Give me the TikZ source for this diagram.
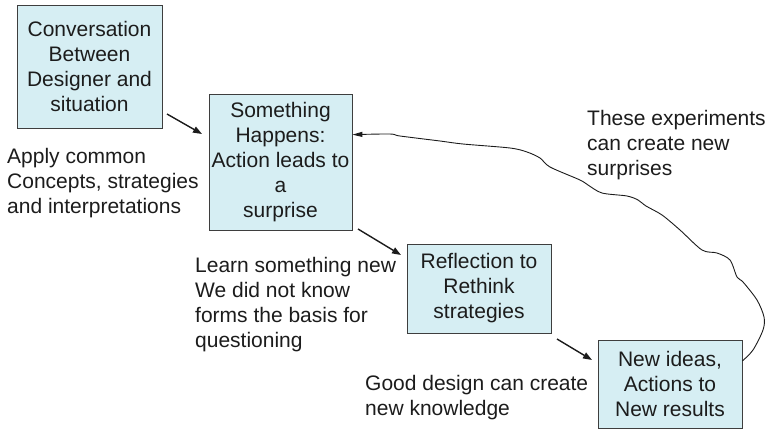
\documentclass[tikz,border=0pt]{standalone}
\usepackage{fontspec}
\setmainfont{Liberation Sans}
\usetikzlibrary{arrows.meta,calc}
\definecolor{boxfill}{RGB}{214,238,243}
\definecolor{ink}{RGB}{28,28,28}
\begin{document}
\begin{tikzpicture}[x=1pt,y=-1pt,
  every node/.style={text=ink},
  txt/.style={font=\fontsize{21}{25}\selectfont},
  box/.style={txt, draw=ink!85, line width=0.8pt, fill=boxfill, align=center, inner sep=0pt},
  note/.style={txt, align=left, anchor=north west, inner sep=0pt},
  flow/.style={draw=ink, line width=1.4pt, -{Triangle[length=9pt,width=6.5pt]}},
  loopline/.style={draw=ink, line width=0.9pt, -{Triangle[length=10pt,width=5pt]}}]
\useasboundingbox (0,0) rectangle (771,429);

% boxes
\node[box, minimum width=145pt, minimum height=123pt] (b1) at (89.5,66.5)
  {Conversation\\Between\\Designer and\\situation};
\node[box, minimum width=143pt, minimum height=136pt] (b2) at (280.5,162)
  {Something\\Happens:\\Action leads to\\a\\surprise};
\node[box, minimum width=144pt, minimum height=89pt] (b3) at (479,288.5)
  {Reflection to\\Rethink\\strategies};
\node[box, minimum width=144pt, minimum height=88pt] (b4) at (670,384)
  {New ideas,\\Actions to\\New results};

% notes
\node[note] (t1) at (7,148) {Apply common\\Concepts, strategies\\and interpretations};
\node[note] (t2) at (587,110) {These experiments\\can create new\\surprises};
\node[note] (t3) at (195,257) {Learn something new\\We did not know\\forms the basis for\\questioning};
\node[note] (t4) at (365,375) {Good design can create\\new knowledge};

% straight arrows
\coordinate (a1s) at (167,114); \coordinate (a1e) at (202,134);
\coordinate (a2s) at (358,229); \coordinate (a2e) at (401,255);
\coordinate (a3s) at (557,339); \coordinate (a3e) at (592,360);
\draw[flow] (a1s) -- (a1e);
\draw[flow] (a2s) -- (a2e);
\draw[flow] (a3s) -- (a3e);

% hand-drawn loop back
\coordinate (cs) at ($(b4.north east)!0.24!(b4.south east)$);
\coordinate (ce) at ($(b2.north east)!0.3!(b2.south east)$);
\draw[loopline] plot[smooth, tension=0.5] coordinates {(cs) (753,350) (763,330) (764,317) (757,300) (743,282) (737,277) (730,260) (717,253) (702,250) (680,230) (662,215) (646,206) (638,200) (627,196) (602,193) (588,185) (580,180) (550,167) (540,158) (527,152) (510,148) (463,144) (440,141) (400,136) (390,134) (ce)};
\end{tikzpicture}
\end{document}
